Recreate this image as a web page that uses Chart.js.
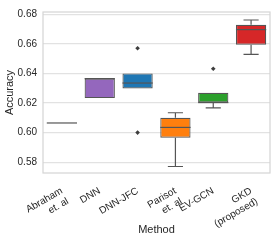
<!DOCTYPE html>
<html>
<head>
<meta charset="utf-8">
<script src="https://cdn.jsdelivr.net/npm/chart.js@4"></script>
<style>
  html, body { margin: 0; padding: 0; background: #fff; }
  #wrap { width: 274px; height: 241px; position: relative; }
</style>
</head>
<body>
<div id="wrap"><canvas id="myChart"></canvas></div>
<script>
// categories and box statistics
var methods = [['Abraham', 'et. al'], 'DNN', 'DNN-JFC', ['Parisot', 'et. al'], 'EV-GCN', ['GKD', '(proposed)']];
var q1 = [0.6065, 0.6233, 0.6298, 0.5966, 0.6203, 0.6594];
var q3 = [0.6065, 0.6365, 0.6400, 0.6100, 0.6269, 0.6729];
var medians = [0.6065, 0.6365, 0.6335, 0.6035, 0.6203, 0.6696];
var whiskerLow = [0.6065, 0.6233, 0.6298, 0.5771, 0.6167, 0.6529];
var whiskerHigh = [0.6065, 0.6365, 0.6400, 0.6134, 0.6269, 0.6761];
var outliers = [[], [], [0.6570, 0.6000], [], [0.6432], []];
var boxColors = ['#1f77b4', '#9467bd', '#1f77b4', '#ff7f0e', '#2ca02c', '#d62728'];
var yTicks = [0.58, 0.60, 0.62, 0.64, 0.66, 0.68];

var lineGray = '#555555';
var textColor = '#262626';

// outlier points (x is the category label itself)
var outlierPoints = [];
outliers.forEach(function (vals, i) {
  vals.forEach(function (v) { outlierPoints.push({ x: methods[i], y: v }); });
});

// whiskers, caps, medians and the frame drawn via the chart scales
var boxExtras = {
  id: 'boxExtras',
  beforeDatasetsDraw: function (chart) {
    var c = chart.ctx, x = chart.scales.x, y = chart.scales.y;
    var meta = chart.getDatasetMeta(0);
    c.save();
    c.strokeStyle = lineGray;
    c.lineWidth = 1.2;
    methods.forEach(function (m, i) {
      var cx = x.getPixelForValue(i);
      var half = meta.data[i].width / 4;
      [[whiskerLow[i], q1[i]], [whiskerHigh[i], q3[i]]].forEach(function (p) {
        if (p[0] === p[1]) return;
        var a = y.getPixelForValue(p[0]), b = y.getPixelForValue(p[1]);
        c.beginPath();
        c.moveTo(cx, a); c.lineTo(cx, b);
        c.moveTo(cx - half, a); c.lineTo(cx + half, a);
        c.stroke();
      });
    });
    c.restore();
  },
  afterDatasetsDraw: function (chart) {
    var c = chart.ctx, x = chart.scales.x, y = chart.scales.y;
    var meta = chart.getDatasetMeta(0);
    var area = chart.chartArea;
    c.save();
    c.strokeStyle = lineGray;
    c.lineWidth = 1.2;
    methods.forEach(function (m, i) {
      var cx = x.getPixelForValue(i);
      var half = meta.data[i].width / 2;
      var my = y.getPixelForValue(medians[i]);
      c.beginPath();
      c.moveTo(cx - half, my); c.lineTo(cx + half, my);
      c.stroke();
    });
    c.strokeStyle = '#d4d4d4';
    c.lineWidth = 1.2;
    c.strokeRect(area.left, area.top, area.right - area.left, area.bottom - area.top);
    c.restore();
  }
};

new Chart(document.getElementById('myChart'), {
  type: 'bar',
  data: {
    labels: methods,
    datasets: [{
      data: q1.map(function (v, i) { return [v, q3[i]]; }),
      backgroundColor: boxColors,
      borderColor: lineGray,
      borderWidth: 1.2,
      borderSkipped: false,
      barPercentage: 0.8,
      categoryPercentage: 1.0
    }, {
      type: 'line',
      data: outlierPoints,
      showLine: false,
      pointStyle: 'rectRot',
      pointRadius: 2.3,
      backgroundColor: '#3d3d3d',
      borderColor: '#3d3d3d',
      borderWidth: 0
    }]
  },
  options: {
    responsive: true,
    maintainAspectRatio: false,
    animation: false,
    layout: { padding: { left: 0, right: 4, top: 5, bottom: 0 } },
    plugins: { legend: { display: false }, tooltip: { enabled: false } },
    scales: {
      x: {
        grid: { display: false },
        border: { display: false },
        ticks: {
          autoSkip: false, minRotation: 30, maxRotation: 30, padding: 4,
          color: textColor, font: { family: 'Liberation Sans', size: 10 }
        },
        title: {
          display: true, text: 'Method', color: textColor,
          font: { family: 'Liberation Sans', size: 11 }, padding: { top: 0, bottom: 4 }
        },
        afterFit: function (s) { s.height = 68; }
      },
      y: {
        min: 0.5727,
        max: 0.6815,
        grid: { color: '#e2e2e2', lineWidth: 1.2, drawTicks: false },
        border: { display: false },
        afterBuildTicks: function (s) { s.ticks = yTicks.map(function (v) { return { value: v }; }); },
        ticks: {
          padding: 6, color: textColor, font: { family: 'Liberation Sans', size: 10 },
          callback: function (v) { return v.toFixed(2); }
        },
        title: {
          display: true, text: 'Accuracy', color: textColor,
          font: { family: 'Liberation Sans', size: 11 }, padding: { top: 3, bottom: 0 }
        },
        afterFit: function (s) { s.width = 43; }
      }
    }
  },
  plugins: [boxExtras]
});
</script>
</body>
</html>
